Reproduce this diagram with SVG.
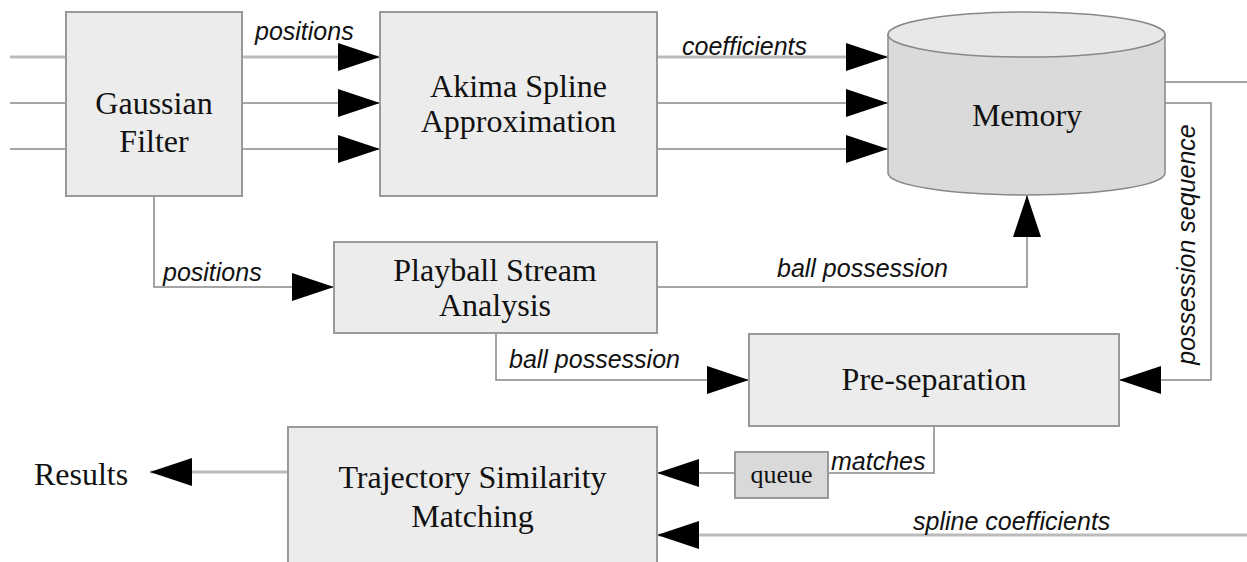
<svg xmlns="http://www.w3.org/2000/svg" width="1247" height="562" viewBox="0 0 1247 562">
<defs>
<marker id="ah" viewBox="0 0 42 28" refX="42" refY="14" markerWidth="42" markerHeight="28" markerUnits="userSpaceOnUse" orient="auto">
<path d="M0,0 L42,14 L0,28 Z" fill="#000"/>
</marker>
<style>
.box{fill:#ececec;stroke:#999;stroke-width:2}
.qbox{fill:#d9d9d9;stroke:#999;stroke-width:2}
.t{font-family:"Liberation Serif","Times New Roman",serif;font-size:32px;fill:#111;text-anchor:middle}
.lab{font-family:"Liberation Sans",Arial,sans-serif;font-style:italic;font-size:25px;fill:#111}
.thin{fill:none;stroke:#888;stroke-width:1.5}
.thick{fill:none;stroke:#bbb;stroke-width:3}
.arr{marker-end:url(#ah)}
</style>
</defs>
<rect width="1247" height="562" fill="#fff"/>
<g id="connectors">
<path class="thick" d="M10,57 H66"/>
<path class="thin" d="M10,103 H66"/>
<path class="thin" d="M10,149 H66"/>
<path class="thick arr" d="M242,57 H380"/>
<path class="thin arr" d="M242,103 H380"/>
<path class="thin arr" d="M242,149 H380"/>
<path class="thick arr" d="M657,57 H888"/>
<path class="thin arr" d="M657,103 H888"/>
<path class="thin arr" d="M657,149 H888"/>
<path class="thin arr" d="M154,196 V287 H334"/>
<path class="thin arr" d="M657,287 H1027 V195"/>
<path class="thin arr" d="M496,333 V380 H749"/>
<path class="thin arr" d="M1165,103 H1211 V380 H1119"/>
<path class="thin" d="M1165,82 H1247"/>
<path class="thin" d="M934,426 V473 H828"/>
<path class="thin arr" d="M735,473 H657"/>
<path class="thick arr" d="M1247,535 H657"/>
<path class="thick arr" d="M288,472 H150"/>
<text class="lab" x="255" y="40">positions</text>
<text class="lab" x="682" y="55">coefficients</text>
<text class="lab" x="163" y="281">positions</text>
<text class="lab" x="777" y="277">ball possession</text>
<text class="lab" x="509" y="368">ball possession</text>
<text class="lab" x="831" y="470">matches</text>
<text class="lab" x="913" y="530">spline coefficients</text>
<text class="lab" text-anchor="middle" transform="translate(1195,244.5) rotate(-90)">possession sequence</text>
</g>
<g id="gaussian">
<rect class="box" x="66" y="12" width="176" height="184"/>
<text class="t" x="154" y="114">Gaussian</text>
<text class="t" x="154" y="152">Filter</text>
</g>
<g id="akima">
<rect class="box" x="380" y="12" width="277" height="184"/>
<text class="t" x="518.5" y="97">Akima Spline</text>
<text class="t" x="518.5" y="132">Approximation</text>
</g>
<g id="memory">
<path d="M888,34.5 L888,173 A138.5,22 0 0 0 1165,173 L1165,34.5 Z" fill="#dadada" stroke="#888" stroke-width="1.5"/>
<ellipse cx="1026.5" cy="34.5" rx="138.5" ry="22.5" fill="#e8e8e8" stroke="#888" stroke-width="1.5"/>
<text class="t" x="1027" y="126">Memory</text>
</g>
<g id="playball">
<rect class="box" x="334" y="242" width="323" height="91"/>
<text class="t" x="495" y="281">Playball Stream</text>
<text class="t" x="495" y="316">Analysis</text>
</g>
<g id="preseparation">
<rect class="box" x="749" y="334" width="370" height="92"/>
<text class="t" x="934" y="390">Pre-separation</text>
</g>
<g id="queue">
<rect class="qbox" x="735" y="452" width="93" height="46"/>
<text class="t" x="781.5" y="483" style="font-size:26px">queue</text>
</g>
<g id="trajectory">
<rect class="box" x="288" y="427" width="369" height="145"/>
<text class="t" x="472.5" y="488">Trajectory Similarity</text>
<text class="t" x="472.5" y="527">Matching</text>
</g>
<g id="results">
<text class="t" x="81" y="485">Results</text>
</g>
</svg>
